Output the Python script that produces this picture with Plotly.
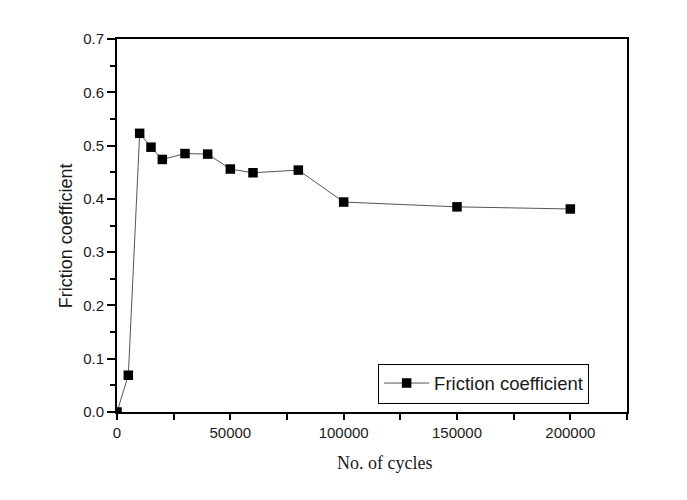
import plotly.graph_objects as go

cycles = [0, 5000, 10000, 15000, 20000, 30000, 40000, 50000, 60000, 80000, 100000, 150000, 200000]
friction = [0.0, 0.069, 0.523, 0.497, 0.474, 0.485, 0.484, 0.456, 0.449, 0.454, 0.394, 0.385, 0.381]
series_name = "Friction coefficient"
x_title = "No. of cycles"
y_title = "Friction coefficient"

fig = go.Figure()
fig.add_trace(go.Scatter(
    x=cycles, y=friction, mode="lines+markers", name=series_name,
    line=dict(color="#555555", width=1),
    marker=dict(symbol="square", size=9.5, color="black"),
    showlegend=True,
))

fig.update_layout(
    width=687, height=500,
    margin=dict(l=117, r=60, t=39, b=88),
    plot_bgcolor="white", paper_bgcolor="white",
    font=dict(family="Arial, Liberation Sans, sans-serif", size=15, color="#1a1a1a"),
    showlegend=True,
    legend=dict(
        x=0.512, y=0.13, xanchor="left", yanchor="top",
        bordercolor="black", borderwidth=1, bgcolor="white",
        font=dict(size=18.5, family="Arial, Liberation Sans, sans-serif", color="#1a1a1a"),
        itemwidth=45, tracegroupgap=0,
    ),
    annotations=[
        dict(text=x_title, xref="paper", yref="paper", x=(384 - 117) / 510, y=(411.7 - 463) / 372.7,
             showarrow=False, xanchor="center", yanchor="middle",
             font=dict(family="Liberation Serif, Times New Roman, serif", size=18, color="#1a1a1a")),
        dict(text=y_title, xref="paper", yref="paper", x=(66 - 117) / 510, y=(411.7 - 236) / 372.7,
             showarrow=False, xanchor="center", yanchor="middle", textangle=-90,
             font=dict(family="Arial, Liberation Sans, sans-serif", size=18, color="#1a1a1a")),
    ],
)

fig.update_xaxes(
    range=[0, 225000], tickvals=[0, 50000, 100000, 150000, 200000],
    ticktext=["0", "50000", "100000", "150000", "200000"],
    ticks="outside", ticklen=6, tickwidth=2, tickcolor="black",
    minor=dict(tickvals=[25000, 75000, 125000, 175000, 225000], ticks="outside", ticklen=6, tickwidth=2, tickcolor="black"),
    showline=True, linecolor="black", linewidth=2, mirror=True,
    showgrid=False, zeroline=False,
)
fig.update_yaxes(
    range=[0, 0.7], tickvals=[0, 0.1, 0.2, 0.3, 0.4, 0.5, 0.6, 0.7], tickformat=".1f",
    ticks="outside", ticklen=8, tickwidth=2, tickcolor="black",
    minor=dict(tickvals=[0.05, 0.15, 0.25, 0.35, 0.45, 0.55, 0.65], ticks="outside", ticklen=5, tickwidth=2, tickcolor="black"),
    showline=True, linecolor="black", linewidth=2, mirror=True,
    showgrid=False, zeroline=False,
)

fig.write_html("out.html")
